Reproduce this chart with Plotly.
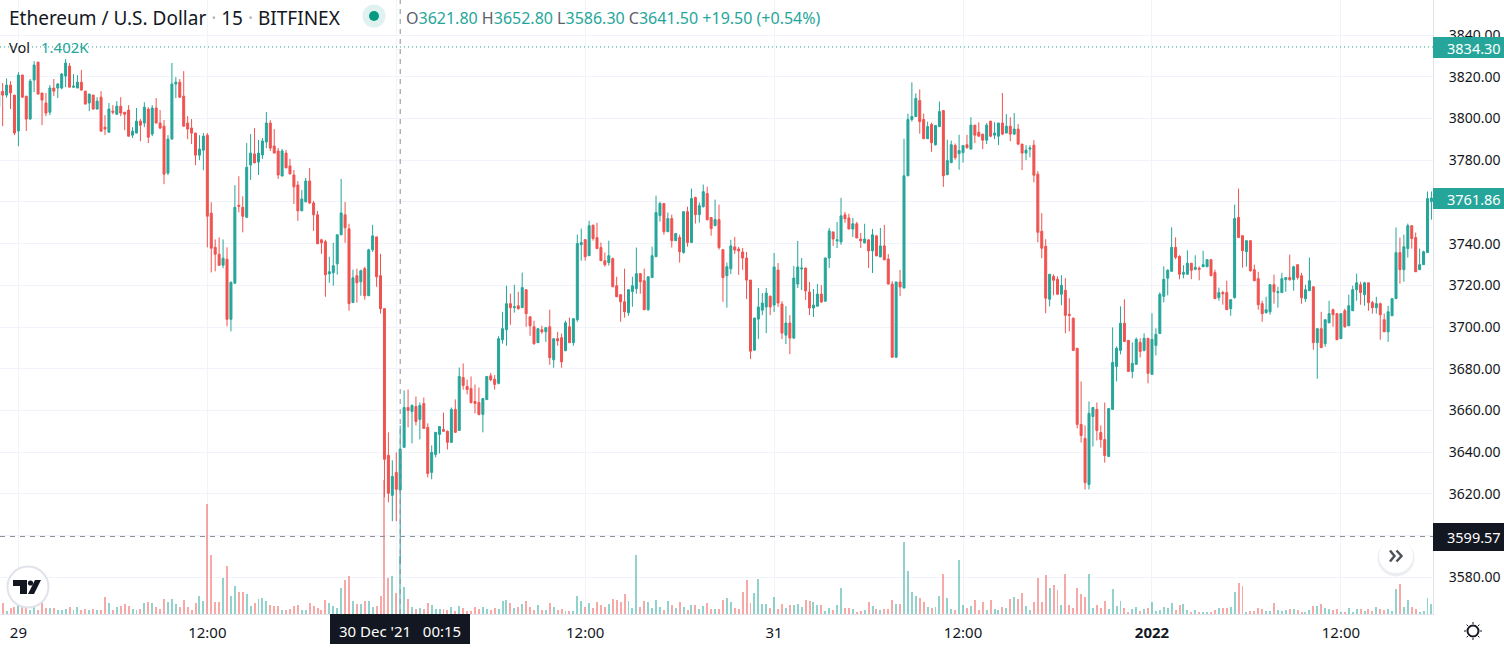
import pandas as pd
import plotly.graph_objects as go

# 15 minute ETH/USD candles from Bitfinex
first_bar = "2021-12-28 22:45"

opens = [
    3805.6,3813,3811.2,3816,3811.2,3794,3820.8,3810.7,3799.7,3818.4,
    3827,3812.2,3807.4,3803,3814.6,3814.6,3814.6,3820.3,3825.1,3815,
    3814.6,3817.4,3813.1,3807.4,3811.2,3804.5,3810.2,3795.8,3793.4,3803.5,
    3802,3805.9,3803,3804,3792,3793,3798.7,3797.8,3804.5,3792.5,
    3805,3797.8,3796.3,3773.8,3790.1,3816.5,3817.4,3810.7,3797.8,3795.4,
    3793,3782.4,3784.8,3792,3754.6,3738.2,3734.9,3729.6,3732.5,3703.7,
    3721,3758.4,3757.4,3752.6,3777.7,3783,3779.1,3782.5,3788.7,3797.8,
    3786.8,3784.4,3772.4,3783.4,3777.2,3772.9,3768.1,3755.7,3760,3770,
    3759.5,3753.8,3741.8,3740.9,3725.5,3726,3730.3,3744.2,3753.8,3747.1,
    3711.7,3724.6,3721.7,3728,3715,3737,3743.2,3724.6,3708.8,3638.5,
    3619.3,3630.3,3621.8,3642.3,3661.4,3659.5,3661.9,3655.7,3663.3,3651.9,
    3630.3,3638.9,3648.5,3650.9,3650,3644.7,3660.5,3650.4,3675.8,3671.5,
    3670.5,3664.3,3663.8,3658.1,3665.2,3676.6,3675,3673,3693.9,3698.7,
    3711.2,3709.3,3710.2,3709.3,3717.9,3704.9,3700.1,3692.5,3698.7,3697.7,
    3700.1,3684.3,3694.4,3694.9,3688.6,3700.1,3692.5,3703.5,3739.5,3741.9,
    3734.2,3748.8,3742.9,3738.1,3731.8,3730.9,3732.8,3719.8,3715.5,3712.1,
    3706.9,3717,3718.4,3725.6,3722.2,3708.3,3723.7,3733.7,3753.4,3759.2,
    3745.7,3752,3741.4,3742.9,3735.7,3755.3,3740.5,3762.1,3753.9,3757.7,
    3764,3752.5,3748.6,3751.5,3737.1,3724.6,3727.9,3738.4,3737.4,3736,
    3733.1,3722.5,3688.9,3703.8,3708.1,3709.6,3714.8,3710.5,3727.3,3711,
    3696.1,3701.9,3694.7,3720.6,3727.8,3728.3,3716.8,3709.1,3710,3715.8,
    3712.4,3733.1,3745.6,3741.3,3740.8,3753.8,3752.3,3747,3749.5,3742.2,
    3740.3,3741.8,3736.5,3743.7,3733.6,3738.9,3732.6,3720.6,3685.5,3721.6,
    3718.7,3772.5,3799.5,3800.9,3808.6,3799.5,3790.3,3797.1,3787.4,3796.1,
    3803.8,3773,3778.8,3787,3783.1,3783.6,3787.4,3785.3,3796.8,3793.4,
    3792.5,3789.6,3798.7,3792,3791.5,3797.8,3793,3796.3,3792.5,3794.9,
    3787.7,3783.4,3785.3,3787.2,3773.3,3745.9,3738.7,3713.3,3724.3,3722.9,
    3715.7,3717.6,3706.1,3704.2,3689.8,3653.3,3646.6,3624.5,3657.1,3660.5,
    3649.4,3646.1,3637.9,3660.5,3681.1,3688.8,3701.8,3693.6,3678.7,3682.1,
    3692.6,3688.8,3694.6,3677.3,3691.2,3696.9,3714.7,3723.4,3726.7,3738.2,
    3733.9,3725.3,3725.3,3730.6,3727.7,3728.2,3728.9,3728.9,3732.3,3726.1,
    3714.1,3716.5,3716.5,3708.8,3714.1,3752.5,3743.8,3736.1,3741.4,3727.5,
    3723.2,3711.2,3706.9,3707.3,3720.3,3716.5,3716.5,3722.7,3723.7,3722.7,
    3729.9,3724.6,3713.6,3717.4,3719.3,3692.5,3699.2,3692,3702,3708.3,
    3706.4,3694.4,3707.8,3700.6,3707.8,3717.9,3720.3,3715.5,3721.2,3711.7,
    3709.3,3711.2,3703.5,3697.7,3705.4,3713.6,3735.7,3727.5,3737.6,3748.6,
    3742.9,3727.5,3729.9,3735.7,3760.1,
]

highs = [
    3815,3817,3819.2,3817.9,3811.2,3822.2,3821,3810.7,3818.9,3827.5,
    3827.2,3812.2,3812.2,3816,3818.9,3817,3821.8,3828.5,3826.6,3821.3,
    3820.8,3823.2,3813.2,3811.8,3811.3,3810.2,3813.1,3801.6,3807.4,3806.4,
    3808.3,3810.2,3803.1,3806.4,3795.8,3805,3799.7,3807.8,3805.4,3806.4,
    3809.8,3804,3799.2,3792,3826.6,3819.8,3818.9,3822.7,3801.1,3799.7,
    3793.1,3792,3793,3793,3759.8,3742,3743,3742,3738.2,3721.9,
    3768,3772.3,3762.7,3788.2,3792.5,3795.4,3789.7,3790.6,3803.1,3799.2,
    3794.9,3785.8,3785.4,3784.9,3780.6,3775.3,3770,3765.7,3771.5,3776.3,
    3760.5,3755.7,3742.3,3741.8,3733.7,3740.4,3744.3,3771,3760,3749.5,
    3727.5,3728,3727.5,3728.9,3737.5,3749,3743.3,3735.1,3708.9,3649.5,
    3636.1,3639.9,3652.8,3669.6,3670,3662.9,3666.7,3663.8,3666.2,3653.8,
    3643.2,3649.6,3652.4,3659,3650.4,3661.4,3665.3,3680.6,3682.5,3674.8,
    3676.3,3672.4,3671,3665.8,3676.4,3678,3677,3695.6,3707.3,3719.8,
    3716,3720.3,3716.9,3726.1,3718,3705,3703,3699.3,3700.6,3699.8,
    3708.3,3694.5,3697.7,3696.8,3703,3704.5,3704.1,3744.3,3747.2,3742,
    3751,3749.1,3750,3740.5,3735.7,3741.4,3733.3,3724.1,3715.6,3728,
    3718,3724.1,3738.1,3725.7,3728,3724.2,3738.5,3763,3760.1,3759.3,
    3754.9,3753.9,3745,3744.3,3755.4,3757.7,3766.4,3762.5,3759.7,3768.3,
    3767.3,3752.6,3761.1,3758.7,3737.2,3730.9,3741.8,3743.2,3738.4,3737.9,
    3736,3722.6,3704.4,3718.7,3716.3,3718.7,3715,3735.5,3730.7,3712.4,
    3710,3705.7,3729.3,3741.3,3733.1,3728.4,3721.6,3718.2,3720.6,3720.1,
    3733.2,3747.5,3745.7,3750.4,3761.9,3755.2,3754.3,3752.3,3750.4,3745.1,
    3749.5,3741.9,3747,3744.2,3747.5,3749,3735,3722,3721.7,3727.4,
    3790.3,3802.3,3817.3,3812,3813.9,3802.3,3798.5,3798,3796.7,3808.1,
    3803.9,3789.8,3789.4,3788,3792.2,3787.1,3792.2,3800.6,3796.9,3798.2,
    3792.6,3797.8,3798.8,3798.2,3797.9,3812.2,3802.1,3800.6,3802.6,3797.3,
    3787.8,3787.2,3787.2,3789.6,3774.7,3754.6,3742.1,3725.4,3725.3,3724.3,
    3724.8,3723.4,3713.8,3704.6,3689.9,3673.9,3652.8,3664.3,3661.5,3663.8,
    3652.8,3663.8,3661,3699.8,3690.7,3709.9,3713.3,3693.7,3692.6,3695,
    3694.6,3697,3694.7,3706.6,3699.4,3716.6,3729.1,3727.7,3747.8,3743,
    3734.4,3729.6,3736.8,3730.7,3734.4,3729.1,3736.6,3732.4,3732.4,3727.5,
    3718.9,3717.4,3722.2,3713.2,3758.7,3766.4,3743.9,3741.5,3741.5,3729.9,
    3726.5,3712.6,3714.5,3720.4,3725.1,3719.3,3726,3723.8,3734.7,3729.4,
    3730,3726,3720.3,3733.3,3719.4,3699.3,3707.3,3703.6,3712.6,3708.8,
    3706.5,3706.5,3708.8,3715.5,3719.8,3725.6,3721.7,3721.7,3721.3,3712.6,
    3714.5,3711.7,3706.4,3710.2,3713.7,3747.7,3742.9,3744.3,3749.6,3748.7,
    3745.3,3737.6,3736.6,3765,3765,
]

lows = [
    3804,3796.3,3810,3804.5,3792,3786.7,3810,3794,3799.5,3812.6,
    3811.5,3796.8,3801.1,3801.6,3810.7,3809.8,3814,3815,3815,3814.6,
    3814.5,3813.5,3806.8,3803.5,3804.3,3804.4,3793.8,3792,3793.3,3802,
    3801.9,3801.1,3794.4,3791.4,3790.6,3792.9,3789.1,3795.8,3788.2,3791.5,
    3797.7,3794.9,3768.5,3772.8,3790,3809.8,3810,3796.2,3790.1,3787.7,
    3777.6,3780,3775.2,3738.2,3726.2,3726.7,3729.5,3728.2,3700.3,3697.9,
    3720.9,3755,3745.4,3752.5,3770.5,3778.6,3772.9,3780.6,3785.8,3784.4,
    3783.3,3771,3772.3,3776.2,3773.3,3759,3750.9,3755.6,3759.9,3759,
    3746.1,3739.8,3735.1,3714.5,3721.2,3719.8,3725.1,3744.1,3740.4,3707.8,
    3711.6,3711.7,3715,3713.1,3714.9,3736,3719.3,3706.4,3618.4,3616,
    3606.9,3606.9,3586.3,3642.2,3651.9,3644.2,3652.8,3646.1,3651.3,3627.9,
    3627,3637.5,3639.4,3649.9,3641.3,3644.6,3649.4,3650.3,3670,3667.7,
    3663.3,3658.6,3657.6,3649.5,3665.1,3674,3670,3672.5,3692,3691,
    3701.1,3706.9,3708.3,3709.2,3700.1,3695.8,3691.5,3692.4,3696.8,3692.9,
    3681.9,3680.5,3691,3680.5,3688.5,3692.4,3691,3702.5,3731.8,3731.8,
    3734.1,3741.4,3737.5,3731.7,3728.9,3729.4,3719.2,3714.4,3702.5,3704.5,
    3705.4,3709.7,3716,3716,3708.2,3707.8,3723.6,3733.6,3750.5,3744.3,
    3745.6,3738.1,3741.3,3730.9,3735.2,3738.5,3740.4,3749.6,3750,3757.3,
    3751,3743.8,3748.5,3737.1,3712.1,3709.3,3725.4,3735,3725,3727.4,
    3713.4,3684.6,3688.8,3694.2,3705.7,3697.1,3705.7,3707.2,3709.6,3694.2,
    3691.8,3687,3694.2,3718.7,3717.7,3712.9,3705.7,3704.8,3709.9,3711.5,
    3712.3,3728.3,3738.9,3737.9,3739.4,3750,3746.9,3743.2,3742.6,3737.9,
    3740.2,3728.3,3725.9,3734,3733.5,3732.1,3720.5,3685.4,3685.4,3714.8,
    3718.6,3772.4,3798.5,3800.8,3792.7,3790.2,3790.2,3784,3787,3796,
    3767.2,3772.9,3778.7,3780.2,3775.4,3778.8,3785.5,3785.2,3788.2,3791.4,
    3785.3,3787.7,3791,3790.1,3787.2,3792,3792.9,3789.1,3792,3787.2,
    3775.2,3780,3781.4,3769.4,3740.6,3733,3706.6,3709.9,3715.2,3715.6,
    3710.4,3697,3697.9,3688.7,3651.4,3644.6,3622.1,3622.1,3642.7,3645.6,
    3642.2,3635,3637.8,3660.4,3673.9,3686.9,3693,3678.6,3675.4,3682,
    3685.4,3688.3,3673,3677.2,3686.4,3696.8,3711.8,3715.2,3726.6,3732.5,
    3722.9,3723.4,3725.2,3722.9,3727.2,3722.4,3728.8,3728.8,3724.5,3713.5,
    3712.6,3710.7,3708.2,3705.4,3713.6,3742.8,3728.5,3729,3726.5,3722.1,
    3708.3,3702.5,3706.4,3705.9,3711.2,3709.3,3716.4,3716.9,3722.2,3717.4,
    3722.7,3711.2,3712.1,3717.3,3689.1,3675.2,3690,3690.5,3701.9,3700.1,
    3693.8,3694.3,3699.7,3700.5,3707.7,3712.6,3710.7,3710.2,3707.8,3706.4,
    3706.4,3693.9,3697.6,3692.9,3705.3,3713.5,3720.8,3721.7,3733.3,3737.6,
    3726.4,3727.4,3729.8,3735.6,3751.5,
]

closes = [
    3812.8,3811.2,3816,3812.2,3793,3820.8,3810.2,3799.7,3817.9,3825.6,
    3811.7,3808.8,3802.6,3814.6,3813.1,3816.5,3821.3,3826.6,3815,3815.5,
    3817.4,3813.6,3806.9,3811.7,3804.5,3808.3,3793.9,3794.9,3804.5,3803,
    3805.9,3802.6,3802,3791.5,3793.9,3798.7,3796.8,3805.4,3791,3805,
    3797.8,3795.4,3773.3,3790.1,3816.5,3817.4,3810.2,3796.3,3794.9,3793,
    3782.4,3785.3,3791.5,3753.1,3737.8,3734.9,3729.6,3733,3703.7,3721.4,
    3757.4,3757.9,3753.1,3776.6,3783.4,3778.7,3783.4,3789.2,3797.8,3785.8,
    3783.4,3772.9,3784.4,3776.3,3773.4,3767.2,3755.7,3761.4,3770,3759.5,
    3753.8,3739.9,3740.4,3725.1,3726.5,3729.4,3744.2,3754.7,3747.6,3711.2,
    3723.6,3721.2,3727,3715,3737,3743.7,3724.1,3708.8,3636.6,3620.3,
    3628.4,3622.2,3641.5,3661.4,3660,3662.4,3654.7,3662.4,3651.4,3629.8,
    3639.9,3649.5,3652.3,3650,3644.7,3660.5,3649.5,3676.3,3672,3670,
    3663.8,3663.3,3658.1,3665.7,3676.3,3674.7,3672.5,3694.4,3699.2,3711.2,
    3709.3,3709.7,3708.8,3718.9,3706.4,3700.6,3692,3699.2,3697.7,3699.7,
    3685.3,3694.4,3693.4,3683.3,3702,3692.5,3704,3740,3740.5,3733.7,
    3748.6,3742.4,3737.6,3731.8,3729.9,3734.2,3719.3,3714.5,3712.1,3707.3,
    3717.9,3719.8,3725.6,3721.7,3708.3,3724.1,3734.2,3754.9,3759.2,3745.7,
    3752,3741.4,3744.8,3736.1,3755.3,3740.5,3761.6,3753.9,3758.2,3764.9,
    3751.5,3747.2,3751.5,3738.1,3723.7,3728.9,3738.9,3736.9,3736.5,3733.1,
    3722.5,3688.4,3704.3,3709.6,3711.5,3716.3,3709.6,3728.8,3711.5,3697.1,
    3701.9,3694.7,3723.5,3728.8,3728.3,3717.3,3709.1,3710.5,3715.8,3712,
    3733.1,3746.1,3742.2,3741.8,3753.3,3751.9,3747,3749.5,3742.7,3741.3,
    3742.2,3736.5,3744.2,3734.1,3738.9,3732.2,3720.6,3685.5,3721.6,3719.2,
    3772.5,3799.5,3800.9,3809.6,3798.5,3790.3,3796.1,3788.4,3796.6,3803.3,
    3772.5,3779.8,3787.4,3781.2,3784.6,3787,3786,3796.8,3792,3791.5,
    3789.6,3796.8,3791.5,3793,3797.8,3792.5,3796.3,3792.5,3794.9,3787.7,
    3783.4,3784.8,3785.8,3772.8,3745.4,3737.8,3713.8,3725.3,3722.4,3715.7,
    3720,3705.6,3705.6,3688.8,3653.3,3648,3625.4,3658.6,3661.4,3650.4,
    3646.1,3638.4,3660.9,3683,3689.8,3701.8,3693.1,3678.7,3682.6,3694.1,
    3688.3,3694.6,3677.8,3694.1,3696.5,3715.7,3722.9,3727.2,3738.2,3733.4,
    3725.3,3726.2,3730.6,3727.2,3728.6,3727.7,3729.9,3732.3,3724.6,3713.6,
    3716.5,3716,3708.3,3713.1,3752,3742.9,3736.6,3741.4,3727,3722.2,
    3710.7,3706.4,3708.3,3720.3,3716.9,3716.9,3723.2,3723.7,3722.7,3728.9,
    3723.7,3714,3717.9,3722.2,3692.5,3699.2,3690.1,3703.5,3706.4,3705.9,
    3693.9,3706.4,3700.1,3710.2,3717.9,3721.2,3716.5,3721.2,3711.7,3709.3,
    3711.2,3705.9,3697.7,3707.3,3713.6,3735.7,3727.5,3738.5,3748.6,3742.4,
    3726.5,3729.9,3736.1,3761.6,3761.86,
]

volumes = [
    112,256,64,136,160,224,200,184,96,176,
    104,304,152,136,152,104,88,128,176,104,
    160,104,128,104,128,104,104,416,272,96,
    176,200,248,200,128,104,128,272,296,272,
    176,128,368,296,368,248,176,344,176,104,
    272,440,320,2648,1424,296,296,872,1160,440,
    680,536,536,488,200,272,368,392,320,224,
    200,200,104,104,128,200,224,104,104,272,
    200,152,104,344,272,200,152,632,824,920,
    320,248,248,320,320,176,200,440,3216,872,
    920,512,1402,656,368,176,128,152,128,272,
    224,128,128,128,104,176,80,200,152,80,
    80,176,112,176,128,104,152,128,320,344,
    272,152,176,248,320,176,104,224,104,104,
    272,176,104,128,80,80,80,440,320,176,
    272,152,296,224,176,248,368,344,296,488,
    320,152,1424,176,320,296,152,344,176,104,
    320,224,152,296,176,104,224,224,128,200,
    272,128,128,128,344,392,296,152,128,536,
    824,272,512,848,248,248,152,416,128,248,
    152,224,224,248,176,344,320,296,224,224,
    80,152,104,224,632,152,152,128,56,80,
    104,296,200,128,104,128,128,344,248,248,
    1736,1040,536,440,392,296,176,152,176,440,
    968,392,128,104,1304,208,152,200,344,104,
    296,104,344,128,104,176,152,368,416,368,
    512,200,104,296,872,296,944,632,704,584,
    224,968,224,152,632,488,416,968,152,224,
    152,320,128,608,200,320,152,56,128,176,
    80,128,152,296,80,104,176,152,272,104,
    224,248,104,56,104,56,56,56,56,104,
    152,152,152,176,536,752,680,56,80,80,
    152,128,80,80,272,104,80,104,128,128,
    104,56,56,104,200,200,248,152,128,104,
    128,56,56,152,56,128,128,80,128,80,
    176,128,104,128,80,608,728,176,344,176,
    128,56,80,392,248,
]

price_ticks = list(range(3580, 3860, 20))
# levels sitting behind a value badge carry no label of their own
price_hidden = [3600, 3760]
time_ticks = ["2021-12-29 00:00", "2021-12-29 12:00", "2021-12-30 00:00", "2021-12-30 12:00",
              "2021-12-31 00:00", "2021-12-31 12:00", "2022-01-01 00:00", "2022-01-01 12:00"]
time_labels = ["29", "12:00", "", "12:00", "31", "12:00", "<b>2022</b>", "12:00"]

last_price = 3761.86
vol_line_price = 3834.30
cross_price = 3599.57
cross_time = "2021-12-30 00:15"

UP, DOWN = "#26a69a", "#ef5350"
UP_SOFT, DOWN_SOFT = "rgba(38,166,154,0.5)", "rgba(239,83,80,0.5)"
INK, GRID, EDGE, CROSS = "#131722", "#f0f3fa", "#e0e3eb", "#8b8e98"
FONT = "Noto Sans"

W, H, PW, PH = 1504, 662, 1433, 614


def px(x):
    return x / PW


def py(y):
    return 1 - y / PH


times = pd.date_range(first_bar, periods=len(closes), freq="15min")
time_text = times.strftime("%Y-%m-%d %H:%M").tolist()
bar_colors = [UP_SOFT if c >= o else DOWN_SOFT for o, c in zip(opens, closes)]

origin = pd.Timestamp("2021-12-29 00:00")
span_left = origin + pd.Timedelta(minutes=-4.675 * 15)
span_right = origin + pd.Timedelta(minutes=359.4 * 15)

fig = go.Figure()
fig.add_trace(go.Bar(x=time_text, y=volumes, marker=dict(color=bar_colors, line=dict(width=0)),
                     width=450000, yaxis="y", hoverinfo="skip"))
fig.add_trace(go.Candlestick(x=time_text, open=opens, high=highs, low=lows, close=closes, yaxis="y2",
                             increasing=dict(line=dict(color=UP, width=1), fillcolor=UP),
                             decreasing=dict(line=dict(color=DOWN, width=1), fillcolor=DOWN),
                             whiskerwidth=0, hoverinfo="skip"))

shapes = []


def rect(x0, y0, x1, y1, fill):
    shapes.append(dict(type="rect", xref="paper", yref="paper", x0=px(x0), x1=px(x1), y0=py(y0), y1=py(y1),
                       fillcolor=fill, line=dict(width=0), layer="above"))


def circle(cx, cy, r, fill, stroke=None):
    shapes.append(dict(type="circle", xref="paper", yref="paper", x0=px(cx - r), x1=px(cx + r),
                       y0=py(cy + r), y1=py(cy - r), fillcolor=fill, layer="above",
                       line=dict(color=stroke or fill, width=2 if stroke else 0)))


def poly(points, fill):
    d = "M" + " L".join(f"{px(x):.5f},{py(y):.5f}" for x, y in points) + " Z"
    shapes.append(dict(type="path", xref="paper", yref="paper", path=d, fillcolor=fill,
                       line=dict(width=0), layer="above"))


def stroke(points, color, width):
    d = "M" + " L".join(f"{px(x):.5f},{py(y):.5f}" for x, y in points)
    shapes.append(dict(type="path", xref="paper", yref="paper", path=d,
                       line=dict(color=color, width=width), layer="above"))


# price and time crosshair, plus the dotted volume level
shapes.append(dict(type="line", xref="paper", yref="y2", x0=0, x1=1, y0=cross_price, y1=cross_price,
                   line=dict(color=CROSS, width=1, dash="5px,5px"), layer="above"))
shapes.append(dict(type="line", xref="x", yref="paper", x0=cross_time, x1=cross_time, y0=0, y1=1,
                   line=dict(color=CROSS, width=1, dash="5px,5px"), layer="above"))
shapes.append(dict(type="line", xref="paper", yref="y2", x0=0, x1=1, y0=vol_line_price, y1=vol_line_price,
                   line=dict(color=UP, width=1, dash="1px,3px"), layer="above"))

# axis badges
rect(1433, 37, 1504, 58, UP)
rect(1433, 188, 1504, 209, UP)
rect(1433, 523, 1504, 551, INK)
rect(330, 614, 470, 644, INK)

# live status dot
circle(374, 16, 11.5, "#dff2ef")
circle(374, 16, 5, "#089981")

# round logo badge
circle(28, 587, 20.5, "#ffffff", EDGE)
poly([(13, 580), (27, 580), (27, 594), (20, 594), (20, 586), (13, 586)], INK)
circle(30.5, 583, 2.6, INK)
poly([(28, 594), (35, 580), (41, 580), (34, 594)], INK)

# scroll-to-latest button
circle(1396, 558, 18.5, "#eceef2")
circle(1396, 556, 17, "#ffffff")
stroke([(1390, 550.5), (1394.5, 556), (1390, 561.5)], "#50535e", 2.5)
stroke([(1396.5, 550.5), (1401.5, 556), (1396.5, 561.5)], "#50535e", 2.5)

# settings icon
circle(1473, 631, 5.5, "#ffffff", INK)
for x0, y0, x1, y1 in [(1473, 622, 1473, 624), (1473, 638, 1473, 640), (1464, 631, 1466, 631), (1480, 631, 1482, 631),
                       (1466.6, 624.6, 1468, 626), (1478, 636, 1479.4, 637.4), (1466.6, 637.4, 1468, 636), (1478, 626, 1479.4, 624.6)]:
    stroke([(x0, y0), (x1, y1)], INK, 1)


def note(x, y, text, size, color=INK, anchor="left"):
    return dict(xref="paper", yref="paper", x=px(x), y=py(y), text=text, showarrow=False, xanchor=anchor,
                yanchor="middle", align=anchor, font=dict(family=FONT, size=size, color=color))


def teal(s):
    return f'<span style="color:{UP}">{s}</span>'


dot = '<span style="color:#b2b5be"> · </span>'
annotations = [
    note(7, 18, f"Ethereum / U.S. Dollar{dot}15{dot}BITFINEX", 19),
    note(404, 18, "O" + teal("3621.80") + " H" + teal("3652.80") + " L" + teal("3586.30") + " C" + teal("3641.50")
         + " " + teal("+19.50 (+0.54%)"), 16, color="#5d606b"),
    note(7, 47, "Vol", 14.5),
    note(39, 47, "1.402K", 15, UP),
    note(1473.5, 47.5, f"{vol_line_price:.2f}", 14.5, "#ffffff", "center"),
    note(1473.5, 198.5, f"{last_price:.2f}", 14.5, "#ffffff", "center"),
    note(1473.5, 537, f"{cross_price:.2f}", 14.5, "#ffffff", "center"),
    note(400, 631, "30 Dec '21 &nbsp;&nbsp;00:15", 15, "#ffffff", "center"),
]

price_labels = ["" if p in price_hidden else f"{p:.2f}" for p in price_ticks]

fig.update_layout(
    width=W, height=H, autosize=False,
    margin=dict(l=0, r=W - PW, t=0, b=H - PH, pad=0),
    paper_bgcolor="#ffffff", plot_bgcolor="#ffffff",
    showlegend=False, hovermode=False, bargap=0, boxgap=0.28,
    font=dict(family=FONT, size=14, color=INK),
    xaxis=dict(type="date", range=[span_left, span_right], tickmode="array", tickvals=time_ticks, ticktext=time_labels,
               showgrid=True, gridcolor=GRID, gridwidth=1, showline=True, linecolor=EDGE, linewidth=1, zeroline=False,
               ticks="", ticklabelstandoff=5, tickangle=0, rangeslider=dict(visible=False),
               tickfont=dict(family=FONT, size=15, color=INK)),
    yaxis=dict(range=[0, PH * 24], visible=False, fixedrange=True),
    yaxis2=dict(range=[3562.4, 3856.8], overlaying="y", side="right", tickmode="array", tickvals=price_ticks,
                ticktext=price_labels, showgrid=True, gridcolor=GRID, gridwidth=1,
                showline=True, linecolor=EDGE, linewidth=1, zeroline=False, ticks="", ticklabelstandoff=12,
                tickfont=dict(family=FONT, size=14, color=INK)),
    shapes=shapes, annotations=annotations,
)

fig.write_html("out.html")
